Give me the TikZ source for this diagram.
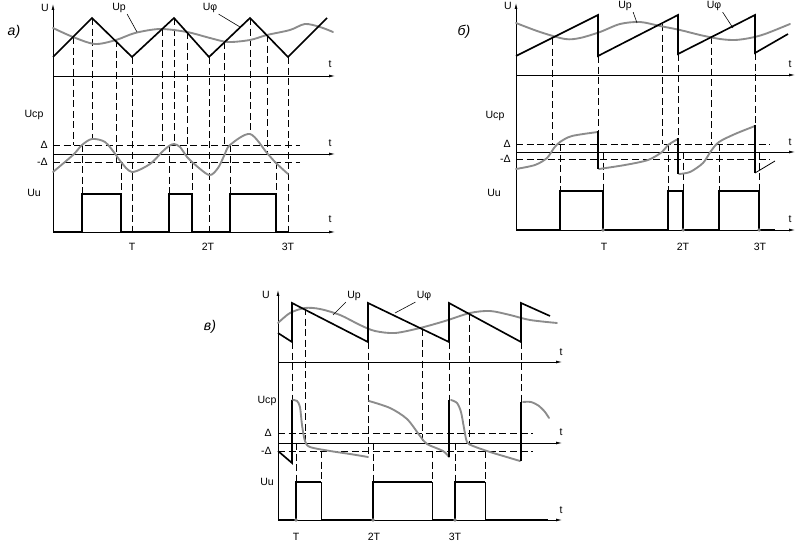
\documentclass[tikz,border=0pt]{standalone}
\usepackage{fontspec}
\setmainfont{Liberation Sans}
\usetikzlibrary{arrows.meta}

\begin{document}
\begin{tikzpicture}[x=0.03cm,y=-0.03cm,
  ax/.style={->,>={Latex[length=5pt,width=2.4pt]},line width=0.6pt},
  wave/.style={line width=1.4pt},
  thinline/.style={line width=0.7pt},
  soft/.style={line width=1.6pt,black!45,line cap=round},
  guide/.style={line width=0.6pt,dash pattern=on 6pt off 3pt},
  lead/.style={line width=0.5pt},
  lbl/.style={font=\fontsize{9}{10}\selectfont,inner sep=1pt},
  tag/.style={font=\fontsize{12}{14}\selectfont\itshape,inner sep=1pt},
  dotT/.style={circle,fill=black!50,inner sep=0pt,minimum size=3pt}]

\useasboundingbox (0,0) rectangle (800,543);

% panel a
\coordinate (Oa) at (53,232);
\draw[ax] (Oa) -- (53,4);
\draw[ax] (53,76) -- (335,76);
\draw[ax] (53,154) -- (335,154);
\draw[ax] (Oa) -- (335,232);

\draw[guide] (53,145) -- (300,145);
\draw[guide] (53,162) -- (300,162);
\draw[guide] (73,37) -- (73,145) (82,145) -- (82,194) (92,18) -- (92,139)
  (116,40) -- (116,162) (121,162) -- (121,194) (132,57) -- (132,232)
  (162,29) -- (162,145) (169,145) -- (169,194) (174,18) -- (174,144)
  (187,32) -- (187,157) (192,162) -- (192,194) (209,57) -- (209,232)
  (224,42) -- (224,145) (230,145) -- (230,194) (250,18) -- (250,134)
  (267,35) -- (267,155) (276,162) -- (276,194) (288,57) -- (288,232);

\draw[soft] plot[smooth] coordinates {(53,28) (73,37) (95,44) (116,40) (135,33)
  (160,29) (187,32) (210,38) (228,42) (250,40) (267,35) (290,30) (305,24) (320,27) (333,32)};
\draw[wave] (53,57) -- (92,18) -- (132,57) -- (174,18) -- (209,57) -- (250,18) -- (288,57) -- (327,18);

\draw[soft] plot[smooth] coordinates {(53,172) (73,155) (82,145) (92,139) (105,142)
  (116,155) (121,162) (132,172) (150,164) (162,152) (169,146) (174,144) (180,147)
  (187,157) (192,162) (209,175) (218,168) (224,156) (230,145) (250,134) (267,153)
  (276,163) (288,174)};

\draw[wave] (Oa) -- (82,232) -- (82,194) -- (121,194) -- (121,232) -- (169,232)
  -- (169,194) -- (192,194) -- (192,232) -- (230,232) -- (230,194) -- (276,194)
  -- (276,232) -- (288,232);

\coordinate (pa) at (137,32);
\coordinate (fa) at (240,27);
\node[lbl] (Ua) at (45,8) {U};
\node[lbl] (Upa) at (119,8) {Up};
\node[lbl] (Ufa) at (210,8) {Uφ};
\draw[lead] (Upa.south east) -- (pa);
\draw[lead] (Ufa.south east) -- (fa);
\node[lbl] (ta1) at (330,64) {t};
\node[lbl] (ta2) at (330,143) {t};
\node[lbl] (ta3) at (330,219) {t};
\node[lbl] (Ucpa) at (34,115) {Ucp};
\node[lbl] (Uua) at (34,193) {Uu};
\node[lbl,anchor=east] (da) at (49,145) {Δ};
\node[lbl,anchor=east] (nda) at (49,162) {-Δ};
\node[lbl] (T1a) at (132,247) {T};
\node[lbl] (T2a) at (208,247) {2T};
\node[lbl] (T3a) at (288,247) {3T};
\node[tag] (taga) at (14,32) {а)};

% panel b
\coordinate (Ob) at (516,230);
\draw[ax] (Ob) -- (516,3);
\draw[ax] (516,75) -- (795,75);
\draw[ax] (516,152) -- (795,152);
\draw[ax] (Ob) -- (795,230);

\draw[guide] (516,144) -- (770,144);
\draw[guide] (516,159) -- (770,159);
\draw[guide] (552,38) -- (552,144) (560,144) -- (560,191) (598,56) -- (598,131)
  (603,152) -- (603,230) (662,24) -- (662,144) (668,144) -- (668,191)
  (678,54) -- (678,138) (683,152) -- (683,230) (711,37) -- (711,144)
  (719,144) -- (719,191) (755,53) -- (755,125) (759,152) -- (759,230);

\draw[soft] plot[smooth] coordinates {(516,23) (540,32) (565,39) (580,38) (600,32)
  (620,24) (640,22) (660,26) (680,30) (700,35) (720,39) (735,40) (750,38) (765,34) (790,24)};
\draw[wave] (516,56) -- (598,15) -- (598,56) -- (678,15) -- (678,54) -- (755,15) -- (755,53) -- (788,34);

\draw[soft] plot[smooth] coordinates {(516,169) (535,165) (547,158) (554,148) (560,142)
  (572,136) (598,132)};
\draw[soft] plot[smooth] coordinates {(599,169) (625,165) (648,160) (662,152) (668,145)
  (678,139)};
\draw[soft] plot[smooth] coordinates {(679,174) (690,172) (703,163) (711,151) (719,142)
  (735,134) (755,126)};
\draw[wave] (598,131) -- (598,169);
\draw[wave] (678,138) -- (678,174);
\draw[wave] (755,125) -- (755,173);
\draw[thinline] (755,173) -- (775,161);

\draw[wave] (Ob) -- (560,230) -- (560,191) -- (603,191) -- (603,230) -- (668,230)
  -- (668,191) -- (683,191) -- (683,230) -- (719,230) -- (719,191) -- (759,191)
  -- (759,230) -- (775,230);
\node[dotT] (d1b) at (603,230) {};
\node[dotT] (d2b) at (683,230) {};
\node[dotT] (d3b) at (759,230) {};

\coordinate (pb) at (637,23);
\coordinate (fb) at (733,28);
\node[lbl] (Ub) at (508,6) {U};
\node[lbl] (Upb) at (625,6) {Up};
\node[lbl] (Ufb) at (714,6) {Uφ};
\draw[lead] (Upb.south east) -- (pb);
\draw[lead] (Ufb.south east) -- (fb);
\node[lbl] (tb1) at (790,64) {t};
\node[lbl] (tb2) at (790,142) {t};
\node[lbl] (tb3) at (790,219) {t};
\node[lbl] (Ucpb) at (495,116) {Ucp};
\node[lbl] (Uub) at (494,193) {Uu};
\node[lbl,anchor=east] (db) at (512,144) {Δ};
\node[lbl,anchor=east] (ndb) at (512,159) {-Δ};
\node[lbl] (T1b) at (604,247) {T};
\node[lbl] (T2b) at (683,247) {2T};
\node[lbl] (T3b) at (760,247) {3T};
\node[tag] (tagb) at (464,32) {б)};

% panel c
\coordinate (Oc) at (278,520);
\draw[ax] (Oc) -- (278,290);
\draw[ax] (278,362) -- (562,362);
\draw[ax] (278,443) -- (562,443);
\draw[ax] (Oc) -- (562,520);

\draw[guide] (278,433) -- (533,433);
\draw[guide] (278,451) -- (533,451);
\draw[guide] (292,342) -- (292,400) (296,443) -- (296,520) (305,308) -- (305,443)
  (321,451) -- (321,482) (368,342) -- (368,457) (373,443) -- (373,520)
  (422,329) -- (422,443) (432,451) -- (432,482) (449,342) -- (449,400)
  (455,443) -- (455,520) (469,314) -- (469,443) (485,451) -- (485,482)
  (521,342) -- (521,402);

\draw[soft] plot[smooth] coordinates {(278,323) (290,313) (305,308) (320,309) (340,315)
  (360,325) (375,331) (395,333) (420,328) (445,321) (470,313) (490,311) (510,315)
  (530,320) (557,323)};
\draw[wave] (278,333) -- (292,342) -- (292,303) -- (368,342) -- (368,303) -- (449,342)
  -- (449,303) -- (521,342) -- (521,303) -- (550,316);

\draw[wave] (278,451) -- (292,463) -- (292,400);
\draw[soft] plot[smooth] coordinates {(293,400) (297,401) (300,407) (302,425) (305,441)
  (310,447) (330,451) (350,454) (368,457)};
\draw[soft] plot[smooth] coordinates {(369,401) (390,408) (407,419) (420,436) (427,444)
  (443,451) (449,457)};
\draw[wave] (449,457) -- (449,400);
\draw[soft] plot[smooth] coordinates {(451,400) (457,403) (461,412) (464,428) (467,442)
  (473,446) (490,452) (510,458) (520,461)};
\draw[wave] (521,461) -- (521,402);
\draw[soft] plot[smooth] coordinates {(523,402) (531,402) (539,406) (545,412) (549,418)};

\draw[wave] (Oc) -- (296,520) -- (296,482) -- (321,482) (321,520) -- (373,520)
  -- (373,482) -- (432,482) (432,520) -- (455,520) -- (455,482) -- (485,482)
  (485,520) -- (548,520);
\draw[thinline] (321,482) -- (321,520) (432,482) -- (432,520) (485,482) -- (485,520);
\node[dotT] (d1c) at (296,520) {};
\node[dotT] (d2c) at (373,520) {};
\node[dotT] (d3c) at (455,520) {};

\coordinate (pc) at (333,315);
\coordinate (fc) at (395,313);
\node[lbl] (Uc) at (266,295) {U};
\node[lbl] (Upc) at (354,296) {Up};
\node[lbl] (Ufc) at (424,296) {Uφ};
\draw[lead] (Upc.south west) -- (pc);
\draw[lead] (Ufc.south west) -- (fc);
\node[lbl] (tc1) at (561,352) {t};
\node[lbl] (tc2) at (561,432) {t};
\node[lbl] (tc3) at (561,510) {t};
\node[lbl] (Ucpc) at (267,401) {Ucp};
\node[lbl] (Uuc) at (267,482) {Uu};
\node[lbl,anchor=east] (dc) at (273,433) {Δ};
\node[lbl,anchor=east] (ndc) at (273,451) {-Δ};
\node[lbl] (T1c) at (296,537) {T};
\node[lbl] (T2c) at (374,537) {2T};
\node[lbl] (T3c) at (455,537) {3T};
\node[tag] (tagc) at (210,327) {в)};

\end{tikzpicture}
\end{document}
